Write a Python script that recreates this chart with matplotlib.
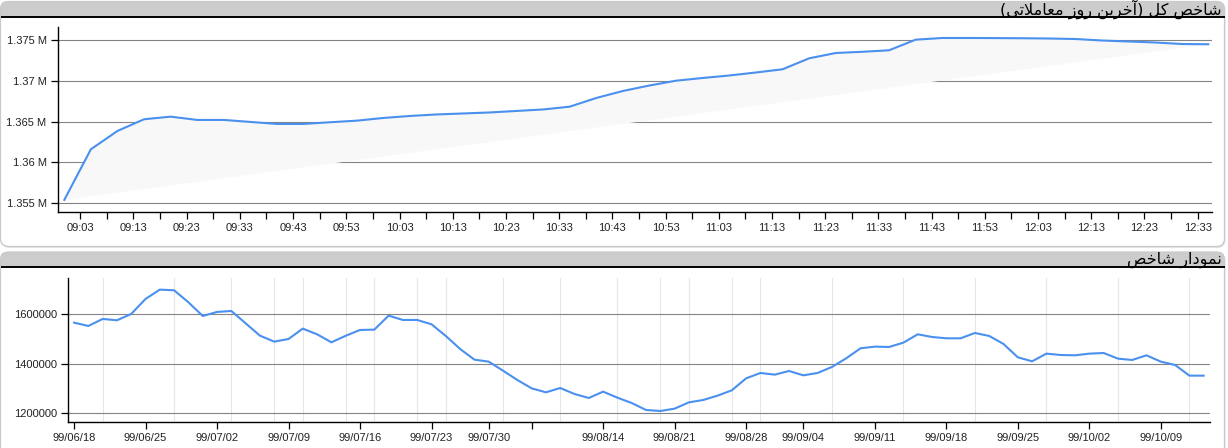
import matplotlib
matplotlib.use('Agg')
import matplotlib.pyplot as plt
import numpy as np
import pandas as pd
from matplotlib.patches import FancyBboxPatch, Rectangle

# ---------------- data ----------------
top_title = "شاخص کل (آخرین روز معاملاتی)"
bottom_title = "نمودار شاخص"

# intraday index, 5-minute samples starting 09:00
top_times = pd.date_range("2020-01-01 09:00", periods=44, freq="5min")
top_values = [1355381, 1361609, 1363858, 1365295, 1365614, 1365209, 1365209, 1364963,
              1364717, 1364717, 1364926, 1365123, 1365455, 1365700, 1365885, 1366007,
              1366130, 1366315, 1366499, 1366843, 1367912, 1368772, 1369447, 1370037,
              1370369, 1370676, 1371044, 1371437, 1372789, 1373440, 1373587, 1373771,
              1375074, 1375283, 1375283, 1375270, 1375250, 1375221, 1375160, 1374975,
              1374853, 1374730, 1374545, 1374509]
top_tick_times = ["09:03", "09:13", "09:23", "09:33", "09:43", "09:53", "10:03", "10:13",
                  "10:23", "10:33", "10:43", "10:53", "11:03", "11:13", "11:23", "11:33",
                  "11:43", "11:53", "12:03", "12:13", "12:23", "12:33"]
top_yticks = [1355000, 1360000, 1365000, 1370000, 1375000]
top_ylabels = ["1.355 M", "1.36 M", "1.365 M", "1.37 M", "1.375 M"]

# daily index (trading days)
daily_values = [1566200, 1552700, 1581100, 1575700, 1601400, 1662200, 1700000, 1697300,
                1648600, 1593200, 1609500, 1613500, 1563500, 1513500, 1489200, 1500000,
                1541900, 1518900, 1486500, 1513000, 1536500, 1537800, 1594600, 1577000,
                1577000, 1559500, 1512200, 1459500, 1416200, 1408100, 1371600, 1333800,
                1300000, 1283800, 1301300, 1277000, 1260800, 1286500, 1262150, 1240500,
                1212200, 1208100, 1217600, 1243200, 1252700, 1270300, 1291900, 1340500,
                1362200, 1355400, 1370300, 1352700, 1362200, 1386500, 1421600, 1462200,
                1468900, 1467600, 1485100, 1518900, 1508100, 1502700, 1502700, 1524300,
                1512200, 1479700, 1425700, 1409500, 1440500, 1435100, 1433800, 1440500,
                1443200, 1420300, 1414900, 1433800, 1408100, 1394600, 1351400, 1351400]
daily_tick_days = [0, 5, 10, 15, 20, 25, 29, 32, 37, 42, 47, 51, 56, 61, 66, 71, 76]
daily_tick_labels = ["99/06/18", "99/06/25", "99/07/02", "99/07/09", "99/07/16",
                     "99/07/23", "99/07/30", "", "99/08/14", "99/08/21", "99/08/28",
                     "99/09/04", "99/09/11", "99/09/18", "99/09/25", "99/10/02", "99/10/09"]
daily_grid_days = [0, 2, 5, 7, 10, 11, 14, 16, 19, 21, 24, 26, 29, 30, 32, 34, 37, 38,
                   41, 43, 46, 48, 51, 53, 56, 58, 61, 63, 66, 68, 71, 73, 76, 78]
daily_yticks = [1200000, 1400000, 1600000]

# ---------------- Persian shaping (manual, matplotlib has no RTL shaping) ----------------
FORMS = {  # iso, fin, ini, med
    'ا': ('\uFE8D', '\uFE8E', None, None),
    'آ': ('\uFE81', '\uFE82', None, None),
    'ت': ('\uFE95', '\uFE96', '\uFE97', '\uFE98'),
    'خ': ('\uFEA5', '\uFEA6', '\uFEA7', '\uFEA8'),
    'د': ('\uFEA9', '\uFEAA', None, None),
    'ر': ('\uFEAD', '\uFEAE', None, None),
    'ز': ('\uFEAF', '\uFEB0', None, None),
    'ش': ('\uFEB5', '\uFEB6', '\uFEB7', '\uFEB8'),
    'ص': ('\uFEB9', '\uFEBA', '\uFEBB', '\uFEBC'),
    'ع': ('\uFEC9', '\uFECA', '\uFECB', '\uFECC'),
    'ل': ('\uFEDD', '\uFEDE', '\uFEDF', '\uFEE0'),
    'م': ('\uFEE1', '\uFEE2', '\uFEE3', '\uFEE4'),
    'ن': ('\uFEE5', '\uFEE6', '\uFEE7', '\uFEE8'),
    'و': ('\uFEED', '\uFEEE', None, None),
    'ک': ('\uFB8E', '\uFB8F', '\uFB90', '\uFB91'),
    'ی': ('\uFBFC', '\uFBFD', '\uFBFE', '\uFBFF'),
}


def shape_rtl(text):
    out = []
    i = 0
    n = len(text)
    prev_joins = False
    while i < n:
        ch = text[i]
        if ch == 'ل' and i + 1 < n and text[i + 1] == 'ا':
            out.append('\uFEFC' if prev_joins else '\uFEFB')
            prev_joins = False
            i += 2
            continue
        if ch in FORMS:
            iso, fin, ini, med = FORMS[ch]
            nxt = text[i + 1] if i + 1 < n else ''
            next_joins = ini is not None and nxt in FORMS
            if prev_joins and next_joins:
                g = med
            elif prev_joins:
                g = fin
            elif next_joins:
                g = ini
            else:
                g = iso
            out.append(g)
            prev_joins = ini is not None
        else:
            out.append(ch)
            prev_joins = False
        i += 1
    vis = ''.join(reversed(out))
    return vis.translate(str.maketrans('()', ')('))


# ---------------- figure ----------------
W, H = 1228, 448
fig = plt.figure(figsize=(W / 100, H / 100), dpi=100)
fig.patch.set_facecolor('white')

bg = fig.add_axes([0, 0, 1, 1], zorder=0)
bg.set_xlim(0, W)
bg.set_ylim(H, 0)
bg.axis('off')


def panel(y0, y1, title):
    # shadow
    bg.add_patch(FancyBboxPatch((1.5, y0 + 1.5), W - 4, y1 - y0, boxstyle="round,pad=0,rounding_size=8",
                                fc='#e4e4e4', ec='none', zorder=1))
    # body
    bg.add_patch(FancyBboxPatch((0.5, y0), W - 4, y1 - y0, boxstyle="round,pad=0,rounding_size=8",
                                fc='white', ec='#c9c9c9', lw=0.9, zorder=2))
    # header
    bg.add_patch(FancyBboxPatch((0.5, y0), W - 4, 15, boxstyle="round,pad=0,rounding_size=6",
                                fc='#cccccc', ec='none', zorder=3))
    bg.add_patch(Rectangle((0.5, y0 + 8), W - 4, 7.5, fc='#cccccc', ec='none', zorder=3))
    bg.plot([0.5, W - 3.5], [y0 + 15.5, y0 + 15.5], color='black', lw=1.4, zorder=4,
            solid_capstyle='butt')
    bg.text(W - 6, y0 + 7.6, shape_rtl(title), ha='right', va='center', fontsize=11.6,
            family=['DejaVu Sans'], color='black', zorder=5)


panel(1.5, 246.5, top_title)
panel(252, 470, bottom_title)

tick_font = dict(family=['Liberation Sans', 'DejaVu Sans'], size=8)
line_color = '#4a90ee'
grid_color = '#848484'


def style_axes(ax):
    ax.set_facecolor('none')
    for s in ('top', 'right'):
        ax.spines[s].set_visible(False)
    for s in ('left', 'bottom'):
        ax.spines[s].set_color('black')
        ax.spines[s].set_linewidth(1.0)
    ax.tick_params(axis='both', which='major', length=5, width=0.9, color='black',
                   labelcolor='#222222', pad=3)
    ax.set_axisbelow(True)


# ---- top intraday chart ----
ax1 = fig.add_axes([57.7 / W, 1 - 212 / H, (1212 - 57.7) / W, (212 - 26.7) / H], zorder=5)
style_axes(ax1)
t0 = top_times[0]
top_x = np.array([(t - t0).total_seconds() / 60 for t in top_times])
ax1.fill(top_x, top_values, color='#f8f8f8', lw=0, zorder=1)
ax1.plot(top_x, top_values, color=line_color, lw=1.5, zorder=3)
ax1.set_xlim(-1.24, 215.7)
ax1.set_ylim(1353894, 1376671)
ax1.set_yticks(top_yticks)
ax1.set_yticklabels(top_ylabels, **tick_font)
lab_x = [(pd.Timestamp("2020-01-01 " + s) - t0).total_seconds() / 60 for s in top_tick_times]
all_ticks = []
all_labels = []
for k, xv in enumerate(lab_x):
    all_ticks.append(xv)
    all_labels.append(top_tick_times[k])
    if k < len(lab_x) - 1:
        all_ticks.append(xv + 5)
        all_labels.append("")
ax1.set_xticks(all_ticks)
ax1.set_xticklabels(all_labels, **tick_font)
ax1.yaxis.grid(True, color=grid_color, lw=0.8)
ax1.xaxis.grid(False)

# ---- bottom daily chart ----
ax2 = fig.add_axes([68.3 / W, 1 - 422.3 / H, (1210 - 68.3) / W, (422.3 - 278.3) / H], zorder=5)
style_axes(ax2)
day_x = np.arange(len(daily_values))
ax2.plot(day_x, daily_values, color=line_color, lw=1.5, zorder=3)
ax2.set_xlim(-0.4, 79.44)
ax2.set_ylim(1162300, 1745900)
ax2.set_yticks(daily_yticks)
ax2.set_yticklabels([str(v) for v in daily_yticks], **tick_font)
ax2.set_xticks(daily_tick_days)
ax2.set_xticklabels(daily_tick_labels, **tick_font)
ax2.set_xticks(daily_grid_days, minor=True)
ax2.tick_params(axis='x', which='minor', length=0)
ax2.xaxis.grid(True, which='minor', color='#e6e6e6', lw=0.8)
ax2.xaxis.grid(False, which='major')
ax2.yaxis.grid(True, color=grid_color, lw=0.8)

fig.savefig('out.png', dpi=100)
